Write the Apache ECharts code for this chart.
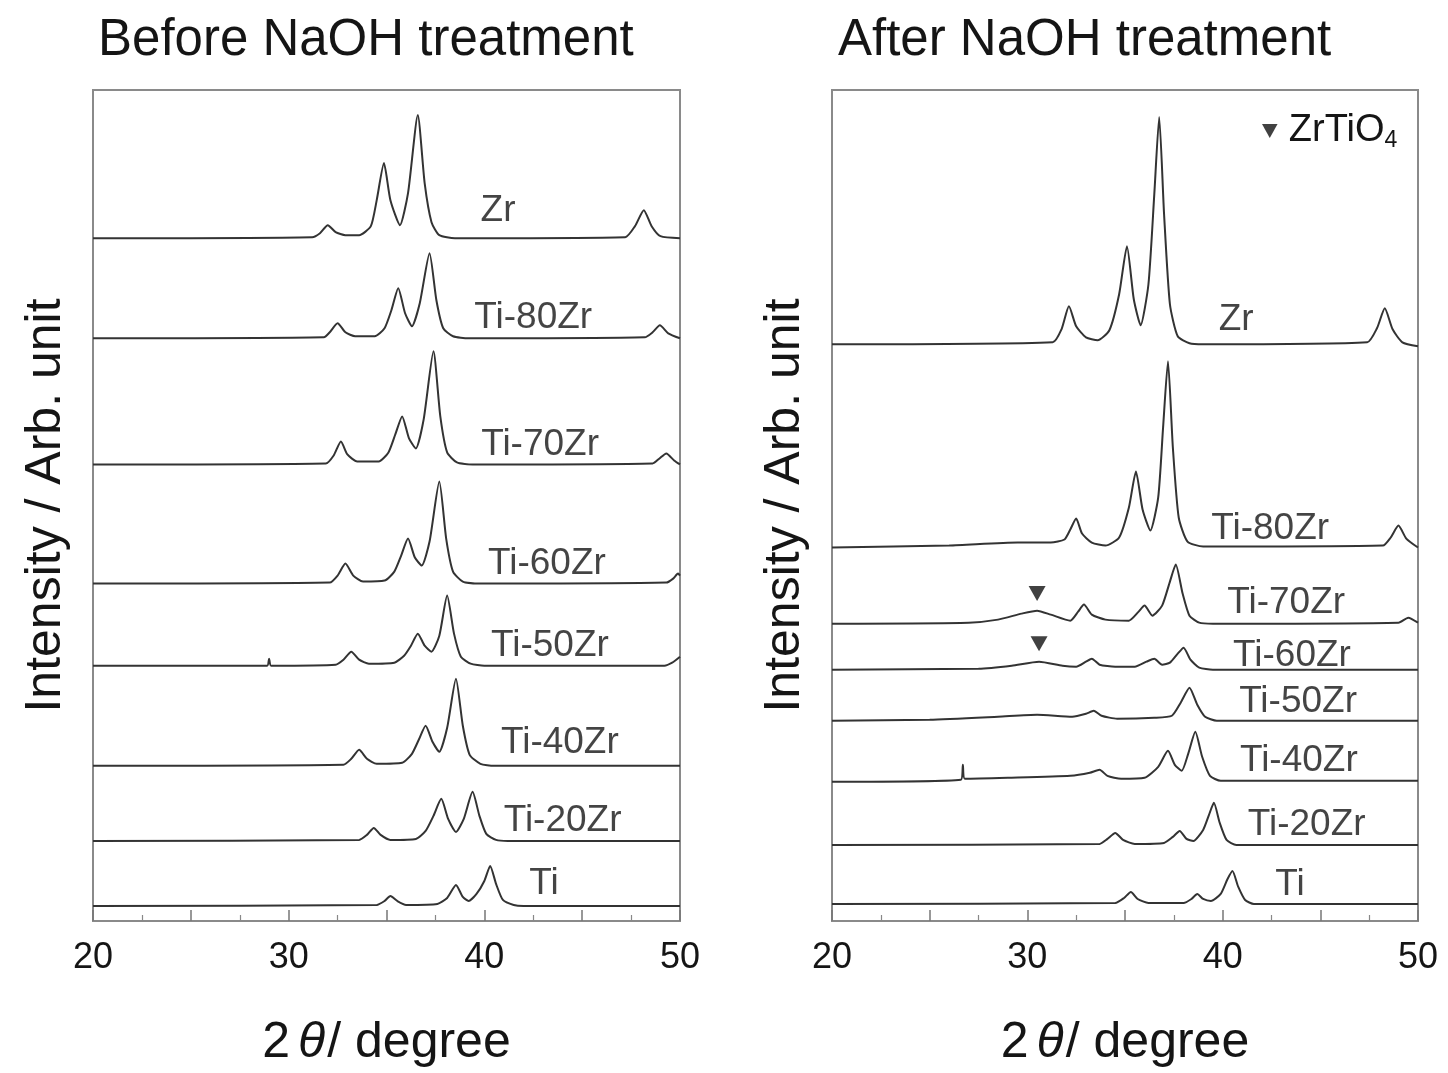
<!DOCTYPE html>
<html>
<head>
<meta charset="utf-8">
<script src="https://cdn.jsdelivr.net/npm/echarts@6/dist/echarts.min.js"></script>
<style>
html, body { margin: 0; padding: 0; background: #fff; }
#xrd { width: 1448px; height: 1073px; }
</style>
</head>
<body>
<div id="xrd"></div>
<script>
// sample order, bottom to top as stacked in both panels
samples = ['Ti', 'Ti-20Zr', 'Ti-40Zr', 'Ti-50Zr', 'Ti-60Zr', 'Ti-70Zr', 'Ti-80Zr', 'Zr']
xTicks = [20, 30, 40, 50]

// vertical offsets of each pattern (arb. unit), same order as samples
beforeOffsets = [15, 80, 155, 255, 337, 456, 582, 682]
afterOffsets = [17, 76, 140, 200, 251, 297, 373, 576]

// ---- before NaOH treatment: [2theta, intensity above own baseline]
before_Ti = [[20,0],[34.5,1],[34.9,5],[35.2,10],[35.55,5],[36.0,1],[37.6,2],[38.1,8],[38.55,21],[38.9,9],[39.2,5],[39.6,12],[40.0,25],[40.3,40],[40.6,22],[40.95,6],[41.5,1],[42,0],[50,0]]
before_Ti20Zr = [[20,0],[33.6,1],[34.0,6],[34.35,13],[34.7,6],[35.2,1],[36.5,2],[37.0,10],[37.4,25],[37.8,42],[38.15,22],[38.55,9],[38.95,22],[39.4,49],[39.75,25],[40.1,7],[40.6,1],[41.2,0],[50,0]]
before_Ti40Zr = [[20,0],[32.8,1],[33.2,7],[33.6,16],[34.0,7],[34.5,2],[35.8,3],[36.3,12],[36.65,26],[37.0,40],[37.35,24],[37.7,14],[38.1,38],[38.55,87],[38.9,40],[39.25,11],[39.8,2],[40.5,0],[50,0]]
before_Ti50Zr = [[20,0],[28.9,0],[29.0,7],[29.1,0],[32.4,1],[32.8,6],[33.2,14],[33.6,6],[34.1,2],[35.4,3],[35.9,10],[36.25,20],[36.6,32],[36.95,20],[37.3,14],[37.7,30],[38.1,70],[38.45,32],[38.8,9],[39.3,2],[40.0,0],[49.2,0],[49.6,3],[50,9]]
before_Ti60Zr = [[20,0],[32.1,1],[32.5,8],[32.9,20],[33.3,8],[33.8,2],[34.9,3],[35.4,12],[35.75,28],[36.1,45],[36.45,26],[36.8,18],[37.2,42],[37.7,102],[38.05,45],[38.4,12],[38.9,2],[39.7,0],[49.3,1],[49.65,5],[49.9,10],[50,8]]
before_Ti70Zr = [[20,0],[31.9,1],[32.3,9],[32.67,23],[33.0,10],[33.5,3],[34.6,3],[35.1,12],[35.45,30],[35.8,48],[36.15,26],[36.5,16],[36.9,45],[37.4,113],[37.75,48],[38.1,12],[38.6,2],[39.4,0],[48.6,1],[48.95,6],[49.3,11],[49.7,4],[50,0]]
before_Ti80Zr = [[20,0],[31.8,1],[32.1,6],[32.5,15],[32.9,6],[33.4,2],[34.4,2],[34.9,10],[35.25,28],[35.6,50],[35.95,25],[36.3,12],[36.7,35],[37.2,85],[37.55,38],[37.9,10],[38.4,2],[39.2,0],[48.2,1],[48.6,6],[48.97,13],[49.4,5],[50,0]]
before_Zr = [[20,0],[31.2,1],[31.6,5],[32.0,13],[32.4,6],[32.9,3],[33.6,3],[34.2,12],[34.5,38],[34.87,75],[35.2,38],[35.69,13],[36.1,45],[36.6,123],[36.95,55],[37.3,16],[37.7,3],[38.5,0],[47.2,1],[47.7,12],[48.15,28],[48.55,12],[49.0,2],[50,0]]

// ---- after NaOH treatment
after_Ti = [[20,0],[34.5,1],[34.95,6],[35.3,12],[35.65,5],[36.2,1],[38.0,1],[38.4,5],[38.7,10],[39.0,5],[39.4,3],[39.9,10],[40.25,25],[40.5,33],[40.8,17],[41.15,4],[41.6,0],[50,0]]
after_Ti20Zr = [[20,0],[33.7,1],[34.1,6],[34.5,12],[34.9,5],[35.5,1],[37.0,2],[37.45,8],[37.8,14],[38.15,6],[38.5,4],[39.0,15],[39.3,30],[39.55,42],[39.85,22],[40.2,5],[40.7,0],[50,0]]
after_Ti40Zr = [[20,-1],[26.6,1],[26.7,16],[26.8,2],[29,3],[32.2,5],[33.2,8],[33.7,11],[34.1,5],[34.8,2],[36.0,3],[36.7,14],[37.2,30],[37.55,16],[37.9,10],[38.25,28],[38.6,49],[38.95,24],[39.35,5],[39.9,0],[50,0]]
after_Ti50Zr = [[20,0],[25,1],[28.5,4],[30.5,6],[32.3,4],[33.0,7],[33.4,10],[33.8,5],[34.6,2],[36.5,3],[37.4,5],[37.85,18],[38.3,33],[38.7,16],[39.1,4],[39.7,0],[50,0]]
after_Ti60Zr = [[20,0],[27.5,1],[29.2,4],[30.6,8],[31.8,4],[32.5,3],[33.0,8],[33.3,11],[33.7,5],[34.5,3],[35.5,3],[36.1,8],[36.5,11],[36.9,5],[37.3,7],[37.7,16],[38.0,22],[38.35,10],[38.8,2],[39.5,0],[50,0]]
after_Ti70Zr = [[20,0],[27,1],[28.5,4],[29.7,10],[30.5,13],[31.2,9],[32.2,3],[32.6,12],[32.9,19],[33.3,9],[34.0,4],[35.2,3],[35.7,12],[36.0,18],[36.4,8],[36.9,18],[37.3,42],[37.6,59],[37.95,30],[38.3,8],[38.8,1],[39.5,0],[49.0,1],[49.5,6],[50,1]]
after_Ti80Zr = [[20,0],[26,2],[29.5,5],[31.2,5],[31.9,8],[32.2,18],[32.5,29],[32.8,14],[33.3,5],[34.0,2],[34.7,10],[35.2,40],[35.56,76],[35.9,38],[36.3,17],[36.7,50],[36.95,120],[37.2,186],[37.45,100],[37.75,30],[38.2,6],[39,1],[48.2,2],[48.6,10],[49.0,22],[49.4,9],[50,0]]
after_Zr = [[20,0],[31.3,2],[31.75,15],[32.13,38],[32.5,18],[33.0,7],[33.6,4],[34.2,14],[34.7,50],[35.1,98],[35.45,45],[35.8,19],[36.2,60],[36.5,150],[36.75,227],[37.0,130],[37.3,40],[37.7,8],[38.3,1],[39,0],[47.4,2],[47.9,16],[48.3,36],[48.7,15],[49.2,2],[50,-2]]

// ZrTiO4 markers on the right panel [2theta, intensity]
zrtio4Marks = [[30.5, 327], [30.6, 277]]

// where each sample name sits [2theta, intensity]
beforeLabelAt = [[43.05,37],[44.0,100],[43.86,178],[43.35,275],[43.2,357],[42.85,476],[42.5,602],[40.7,709]]
afterLabelAt = [[43.45,36],[44.3,96],[43.9,160],[43.86,219],[43.55,265],[43.25,318],[42.43,392],[40.69,600]]

beforeData = [before_Ti, before_Ti20Zr, before_Ti40Zr, before_Ti50Zr, before_Ti60Zr, before_Ti70Zr, before_Ti80Zr, before_Zr]
afterData = [after_Ti, after_Ti20Zr, after_Ti40Zr, after_Ti50Zr, after_Ti60Zr, after_Ti70Zr, after_Ti80Zr, after_Zr]

FONT = '"Liberation Sans", Arial, Helvetica, sans-serif'
TXT = '#151515'
TRI = 'path://M0,0L20,0L10,18Z'

makeX = function (idx) {
    return {
        "type": "value",
        "gridIndex": idx,
        "min": 20,
        "max": 50,
        "interval": 5,
        "axisLine": {"show": true, "lineStyle": {"color": "#8a8a8a", "width": 2}},
        "axisTick": {"inside": true, "length": 11, "lineStyle": {"color": "#777", "width": 1.5}},
        "minorTick": {"show": true, "splitNumber": 2, "length": 6, "lineStyle": {"color": "#888", "width": 1.2}},
        "splitLine": {"show": false},
        "axisLabel": {
            "formatter": function (v) { return xTicks.indexOf(v) >= 0 ? String(v) : ''; },
            "fontSize": 36, "color": TXT, "fontFamily": FONT, "margin": 19
        },
        "name": "{a|2}{b|θ}{a|/ degree}",
        "nameLocation": "middle",
        "nameGap": 97,
        "nameTextStyle": {
            "rich": {
                "a": {"fontSize": 50, "color": TXT, "fontFamily": FONT},
                "b": {"fontSize": 50, "color": TXT, "fontFamily": FONT, "fontStyle": "italic", "padding": [0, 2, 0, 8]}
            }
        }
    };
};

makeY = function (idx) {
    return {
        "type": "value",
        "gridIndex": idx,
        "min": 0,
        "max": 830,
        "axisLine": {"show": false},
        "axisTick": {"show": false},
        "axisLabel": {"show": false},
        "splitLine": {"show": false},
        "name": "Intensity / Arb. unit",
        "nameLocation": "middle",
        "nameGap": 22,
        "nameTextStyle": {"fontSize": 50, "color": TXT, "fontFamily": FONT}
    };
};

series = []
panels = [[beforeData, beforeOffsets, beforeLabelAt], [afterData, afterOffsets, afterLabelAt]]
panels.forEach(function (p, gi) {
    p[0].forEach(function (pts, k) {
        series.push({
            "name": samples[k] + (gi ? ' after' : ' before'),
            "type": "line",
            "xAxisIndex": gi,
            "yAxisIndex": gi,
            "data": pts.map(function (d) { return [d[0], d[1] + p[1][k]]; }),
            "showSymbol": false,
            "smooth": 0.2,
            "lineStyle": {"color": "#333333", "width": 2},
            "silent": true
        });
    });
    series.push({
        "name": "labels" + gi,
        "type": "scatter",
        "xAxisIndex": gi,
        "yAxisIndex": gi,
        "symbolSize": 1,
        "itemStyle": {"color": "rgba(0,0,0,0)"},
        "data": p[2].map(function (d, k) { return {"name": samples[k], "value": d}; }),
        "label": {
            "show": true, "position": "inside", "formatter": "{b}",
            "fontSize": 37, "color": TXT, "fontFamily": FONT
        },
        "silent": true
    });
});
series.push({
    "name": "ZrTiO4",
    "type": "scatter",
    "xAxisIndex": 1,
    "yAxisIndex": 1,
    "symbol": TRI,
    "symbolSize": [17, 15],
    "itemStyle": {"color": "#111"},
    "data": zrtio4Marks,
    "silent": true
});

option = {
    "backgroundColor": "#ffffff",
    "animation": false,
    "title": [
        {"text": "Before NaOH treatment", "left": 98, "top": 15, "padding": 0,
         "textStyle": {"fontSize": 51, "fontWeight": "normal", "color": TXT, "fontFamily": FONT}},
        {"text": "After NaOH treatment", "left": 838, "top": 15, "padding": 0,
         "textStyle": {"fontSize": 51, "fontWeight": "normal", "color": TXT, "fontFamily": FONT}}
    ],
    "legend": {
        "data": [{"name": "ZrTiO4", "icon": TRI}],
        "left": 1262,
        "top": 112,
        "padding": 0,
        "itemWidth": 16,
        "itemHeight": 14,
        "itemGap": 0,
        "selectedMode": false,
        "formatter": function () { return '{m|ZrTiO}{s|4}'; },
        "textStyle": {
            "padding": [0, 0, 0, 6],
            "rich": {
                "m": {"fontSize": 38, "lineHeight": 42, "color": TXT, "fontFamily": FONT},
                "s": {"fontSize": 23, "lineHeight": 23, "verticalAlign": "bottom", "color": TXT, "fontFamily": FONT}
            }
        }
    },
    "grid": [
        {"left": 93, "top": 90, "width": 587, "height": 832, "show": true, "borderColor": "#8a8a8a", "borderWidth": 2},
        {"left": 832, "top": 90, "width": 586, "height": 832, "show": true, "borderColor": "#8a8a8a", "borderWidth": 2}
    ],
    "xAxis": [makeX(0), makeX(1)],
    "yAxis": [makeY(0), makeY(1)],
    "series": series
};

myChart = echarts.init(document.getElementById('xrd'));
myChart.setOption(option);
</script>
</body>
</html>
